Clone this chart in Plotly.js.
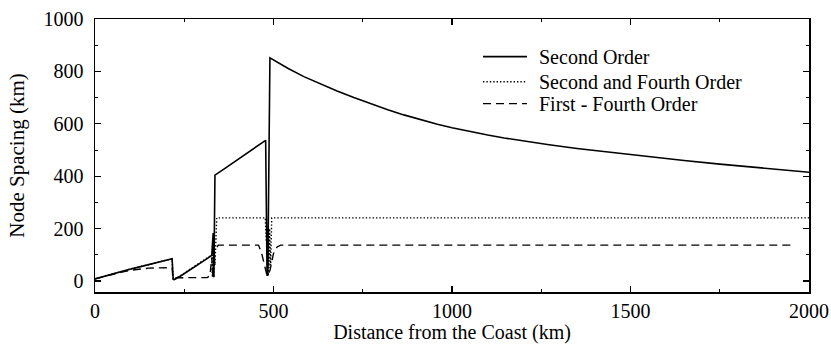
<!DOCTYPE html>
<html><head><meta charset="utf-8">
<script src="https://cdn.plot.ly/plotly-3.0.1.min.js"></script>
<style>html,body{margin:0;padding:0;background:#fff}#chart{width:831px;height:344px}</style>
</head><body><div id="chart"></div>
<script>
// Second Order (solid)
var secondX = [0, 25, 50, 75, 100, 125, 150, 175, 200, 216, 219, 222, 240, 260, 280, 300, 315, 327, 331, 333, 336, 360, 400, 440, 478, 482, 484, 490,
  540, 585, 630, 678, 725, 772, 820, 865, 910, 959, 1000, 1052, 1100, 1146, 1200, 1267, 1350, 1450, 1550, 1650, 1750, 1850, 1950, 2000];
var secondY = [8, 18, 28, 37, 46, 54, 62, 69, 77, 85, 6, 5, 19, 36, 54, 72, 86, 98, 183, 14, 404, 426, 463, 501, 537, 22, 22, 852,
  812, 780, 752, 725, 700, 676, 654, 634, 616, 598, 585, 570, 557, 546, 534, 521, 506, 490, 474, 460, 446, 433, 421, 415];
// Second and Fourth Order (dotted)
var secondFourthX = [0, 25, 50, 75, 100, 125, 150, 175, 200, 216, 219, 222, 240, 260, 280, 300, 315, 327, 329, 330, 331, 332, 333, 334, 336, 341, 477, 478, 479, 480, 481, 482, 483, 484, 485, 486, 487, 489, 492, 495, 2000];
var secondFourthY = [8, 18, 28, 37, 46, 54, 62, 69, 77, 85, 6, 6, 21, 39, 58, 76, 90, 100, 15, 100, 15, 95, 15, 120, 60, 241, 241, 200, 235, 150, 215, 100, 190, 40, 20, 160, 50, 200, 60, 241, 241];
// First - Fourth Order (dashed)
var firstFourthX = [0, 25, 50, 75, 100, 125, 150, 175, 200, 216, 218, 240, 280, 314, 322, 327, 330, 333, 338, 345, 458, 466, 477, 482, 490, 500, 510, 520, 1950];
var firstFourthY = [8, 17, 26, 34, 41, 46, 49, 50, 51, 51, 12, 13, 13, 13, 20, 90, 15, 100, 120, 137, 137, 110, 54, 20, 40, 105, 130, 137, 137];

var seriesNames = ['Second Order', 'Second and Fourth Order', 'First - Fourth Order'];
var xTicks = [0, 500, 1000, 1500, 2000];
var yTicks = [0, 200, 400, 600, 800, 1000];

var FONT = 'Liberation Serif, Times New Roman, serif';
var styles = [
  {color: 'black', width: 1.6, dash: 'solid'},
  {color: 'black', width: 1.4, dash: '1.4px,2px'},
  {color: 'black', width: 1.4, dash: '8px,5px'}
];
var traces = [
  {x: secondX, y: secondY, name: seriesNames[0], mode: 'lines', line: styles[0]},
  {x: secondFourthX, y: secondFourthY, name: seriesNames[1], mode: 'lines', line: styles[1]},
  {x: firstFourthX, y: firstFourthY, name: seriesNames[2], mode: 'lines', line: styles[2]}
];

// hand-built legend (sample line + label) in paper coordinates
var legendRowsY = [0.862, 0.770, 0.690];
var shapes = [], annotations = [];
for (var i = 0; i < seriesNames.length; i++) {
  shapes.push({type: 'line', xref: 'paper', yref: 'paper', x0: 0.5434, x1: 0.605,
    y0: legendRowsY[i], y1: legendRowsY[i], line: styles[i]});
  annotations.push({xref: 'paper', yref: 'paper', x: 0.619, y: legendRowsY[i], xanchor: 'left', yanchor: 'middle',
    showarrow: false, text: seriesNames[i], font: {family: FONT, size: 20, color: 'black'}});
}

var axisCommon = {
  showgrid: false, zeroline: false, showline: true, linecolor: 'black', linewidth: 1.5,
  mirror: 'allticks', ticks: 'inside', ticklen: 6, tickwidth: 1.2, tickcolor: 'black',
  tickfont: {family: FONT, size: 20, color: 'black'}
};
var layout = {
  width: 831, height: 344,
  margin: {l: 95, r: 22, t: 18.5, b: 52},
  paper_bgcolor: 'white', plot_bgcolor: 'white',
  font: {family: FONT, size: 20, color: 'black'},
  showlegend: false,
  shapes: shapes, annotations: annotations,
  xaxis: Object.assign({}, axisCommon, {
    range: [0, 2000], tickvals: xTicks, ticktext: xTicks.map(String),
    minor: {dtick: 250, tick0: 0, ticks: 'inside', ticklen: 3, tickcolor: 'black', tickwidth: 1},
    title: {text: 'Distance from the Coast (km)', font: {family: FONT, size: 20, color: 'black'}, standoff: 10}
  }),
  yaxis: Object.assign({}, axisCommon, {
    range: [-42, 1000], tickvals: yTicks, ticktext: yTicks.map(String), ticklabelstandoff: 6,
    minor: {dtick: 100, tick0: 0, ticks: 'inside', ticklen: 3, tickcolor: 'black', tickwidth: 1},
    title: {text: 'Node Spacing (km)', font: {family: FONT, size: 21, color: 'black'}, standoff: 13}
  })
};
Plotly.newPlot('chart', traces, layout, {staticPlot: true, displayModeBar: false});
</script></body></html>
